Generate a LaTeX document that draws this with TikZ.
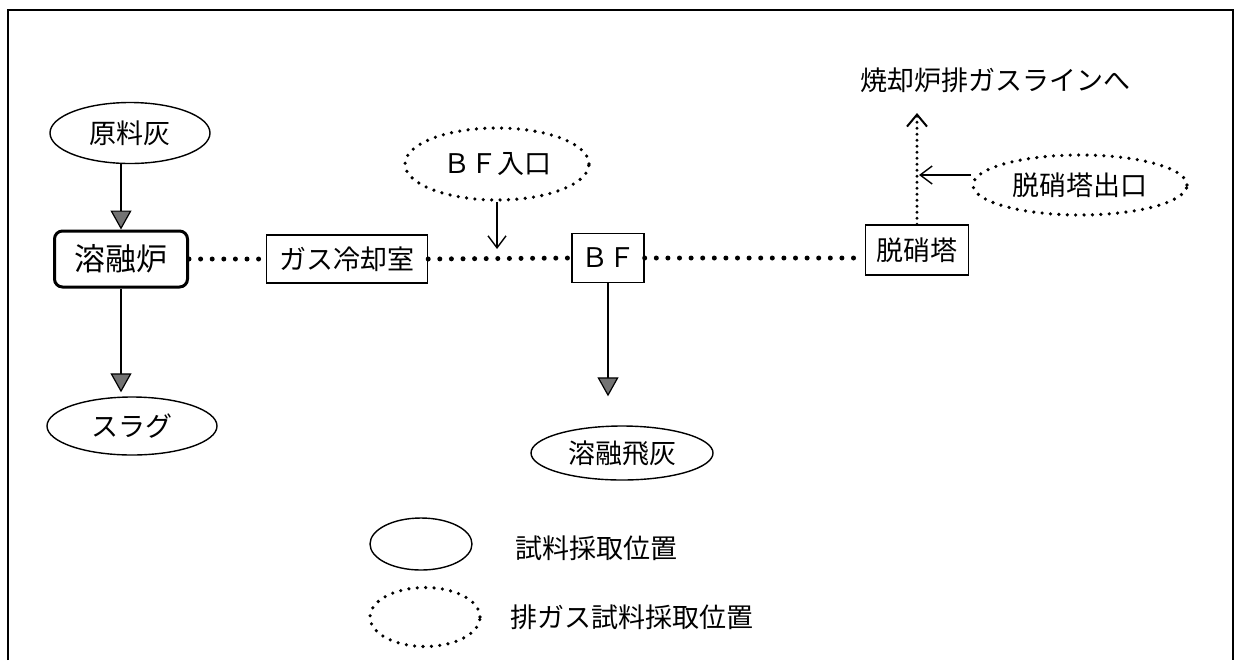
\documentclass[tikz,border=0pt]{standalone}
\usepackage{fontspec}
\setmainfont{Noto Sans CJK JP}
\usetikzlibrary{shapes.geometric,arrows.meta}
\begin{document}
\begin{tikzpicture}[x=0.5pt,y=-0.5pt,
  txt/.style={font=\fontsize{13.5pt}{16pt}\selectfont},
  sample/.style={ellipse,draw,line width=0.7pt,inner sep=0pt,txt},
  gassample/.style={ellipse,draw,line width=1.8pt,dash pattern=on 0pt off 4.2pt,line cap=round,inner sep=0pt,txt},
  unitbox/.style={rectangle,draw,line width=0.7pt,inner sep=0pt,txt},
  duct/.style={line width=2.5pt,dash pattern=on 0pt off 5.8pt,line cap=round},
  feed/.style={line width=0.6pt,-{Triangle[length=9.5pt,width=10.5pt,fill=black!55]}},
  tap/.style={line width=0.7pt,-{Straight Barb[length=6pt,width=9pt]}}
]
\useasboundingbox (0,0) rectangle (1235,660);
\draw[line width=0.8pt] (8,660) -- (8,10) -- (1233,10) -- (1233,660);

\node[sample,minimum width=80pt,minimum height=30.5pt] (genryo) at (130,133) {原料灰};
\node[draw,line width=1.5pt,rounded corners=4pt,minimum width=66.5pt,minimum height=28pt,inner sep=0pt,font=\fontsize{15.5pt}{18pt}\selectfont] (furnace) at (121,259) {溶融炉};
\node[unitbox,minimum width=80.5pt,minimum height=24pt] (cooler) at (347,259) {ガス冷却室};
\node[unitbox,minimum width=36pt,minimum height=24.5pt] (bf) at (608,258) {ＢＦ};
\node[unitbox,minimum width=51.5pt,minimum height=25pt] (dassho) at (917,250) {脱硝塔};
\node[gassample,minimum width=92pt,minimum height=36pt] (bfin) at (497,164) {ＢＦ入口};
\node[gassample,minimum width=107pt,minimum height=30pt] (dexit) at (1080,185) {脱硝塔出口};
\node[txt] (dest) at (995,80) {焼却炉排ガスラインへ};
\node[sample,minimum width=85pt,minimum height=29pt] (slag) at (132,426) {スラグ};
\node[sample,minimum width=91pt,minimum height=27pt] (flyash) at (622,453) {溶融飛灰};

\node[sample,minimum width=51pt,minimum height=26pt] (legA) at (421,544) {};
\node[txt,anchor=west] (legAt) at (508,548) {試料採取位置};
\node[gassample,minimum width=55pt,minimum height=29.5pt] (legB) at (425,617) {};
\node[txt,anchor=west] (legBt) at (503,617) {排ガス試料採取位置};

\draw[feed] (furnace.north |- genryo.south) -- (furnace.north);
\draw[feed,shorten >=2pt] (furnace.south) -- (furnace.south |- slag.north);
\draw[feed,shorten >=14.5pt] (bf.south) -- (bf.south |- flyash.north);

\draw[duct] (furnace.east) -- (cooler.west);
\draw[duct] (cooler.east) -- (bf.west);
\draw[duct] (bf.east) -- (dassho.west |- bf.east);

\coordinate (outtip) at (917,113);
\draw[line width=1.6pt,dash pattern=on 0pt off 3pt,line cap=round,-{Straight Barb[length=6pt,width=10pt,line width=1pt]}] (dassho.north) -- (outtip);

\coordinate (tapA) at (919,175);
\draw[tap] (dexit.west |- tapA) -- (tapA);
\coordinate (tapB) at (497,249);
\draw[tap] (bfin.south) -- (tapB);
\end{tikzpicture}
\end{document}
